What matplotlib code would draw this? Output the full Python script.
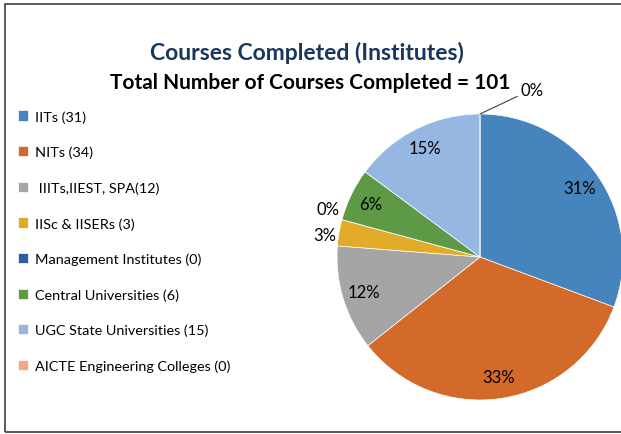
import numpy as np
import matplotlib
matplotlib.use('Agg')
import matplotlib.pyplot as plt
from matplotlib.patches import Rectangle

plt.rcParams['font.family'] = ['Lato', 'DejaVu Sans']

# data
categories = ['IITs (31)', 'NITs (34)', ' IIITs,IIEST, SPA(12)', 'IISc & IISERs (3)',
              'Management Institutes (0)', 'Central Universities (6)',
              'UGC State Universities (15)', 'AICTE Engineering Colleges (0)']
counts = [31, 34, 12, 3, 0, 6, 15, 0]
pct_labels = ['31%', '33%', '12%', '3%', '0%', '6%', '15%', '0%']
colors = ['#4684BD', '#D36A2A', '#A5A5A5', '#E2AA29', '#2E5DA8', '#5E9945', '#95B7E1', '#F2A989']

fig = plt.figure(figsize=(6.21, 4.35), dpi=100)

# outer frame
fig.patches.append(Rectangle((5 / 621, 2 / 435), 640 / 621, 428 / 435, transform=fig.transFigure,
                             fill=False, edgecolor='#404040', linewidth=1.2))

ax = fig.add_axes([337 / 621, 34 / 435, 286 / 621, 286 / 435])
wedges, _ = ax.pie(counts, colors=colors, startangle=90, counterclock=False,
                   wedgeprops=dict(edgecolor='white', linewidth=0.5))
ax.set_xlim(-1, 1)
ax.set_ylim(-1, 1)
ax.set_aspect('equal')
ax.axis('off')

# small slices sit outside the pie; nudge them apart a little
nudge = {3: -0.03, 4: 0.05}
for i, w in enumerate(wedges):
    ang = np.deg2rad((w.theta1 + w.theta2) / 2)
    if i == len(wedges) - 1:
        # leader line for the last zero slice at the top
        ax.annotate(pct_labels[i], xy=(0, 1.0), xytext=(0.28, 1.17), fontsize=12,
                    ha='left', va='center',
                    arrowprops=dict(arrowstyle='-', color='#404040', lw=0.8, shrinkA=0, shrinkB=0),
                    annotation_clip=False)
        continue
    r = 1.1 if counts[i] <= 3 else 0.85
    ax.text(r * np.cos(ang), r * np.sin(ang) + nudge.get(i, 0), pct_labels[i], fontsize=12,
            ha='center', va='center', clip_on=False)

fig.text(0.495, 0.878, 'Courses Completed (Institutes)', ha='center', va='center',
         fontsize=16.5, fontweight='bold', color='#17375E')
fig.text(0.50, 0.809, 'Total Number of Courses Completed = 101', ha='center', va='center',
         fontsize=15, fontweight='bold', color='black')

fig.legend(wedges, categories, loc='upper left', bbox_to_anchor=(18 / 621, 1 - 111 / 435),
           frameon=False, fontsize=10.4, handlelength=0.7, handleheight=0.7,
           handletextpad=0.5, labelspacing=1.6, borderaxespad=0, borderpad=0)

fig.savefig('out.png', dpi=100)
